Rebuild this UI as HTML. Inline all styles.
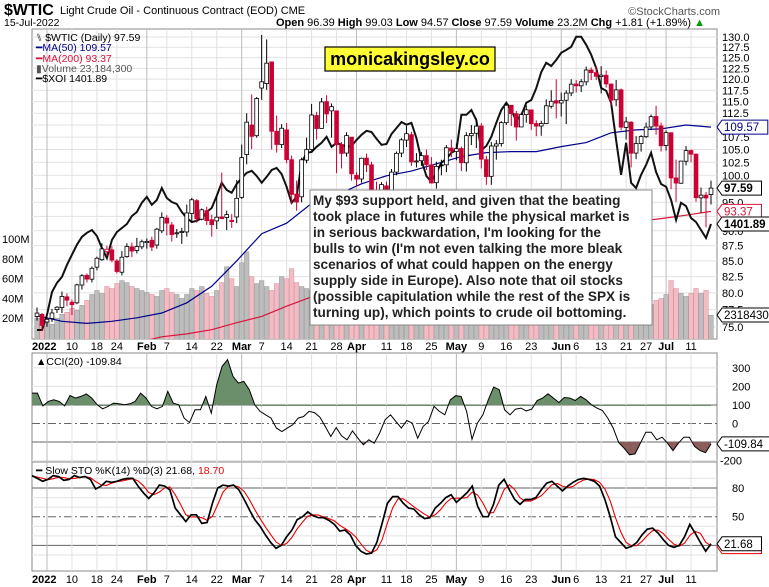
<!DOCTYPE html>
<html><head><meta charset="utf-8"><style>
body{margin:0;background:#fff;}
svg{display:block;font-family:"Liberation Sans",Arial,sans-serif;}
</style></head><body>
<svg id="c" width="769" height="587" viewBox="0 0 769 587">
<defs>
<clipPath id="mainClip"><rect x="32" y="29" width="685" height="310"/></clipPath>
<clipPath id="cciUp"><rect x="32" y="353" width="685" height="52.95"/></clipPath>
<clipPath id="cciDn"><rect x="32" y="442.05" width="685" height="20"/></clipPath>
</defs>
<rect x="0" y="0" width="769" height="587" fill="#fff"/>
<text x="4" y="15" font-size="16" font-weight="bold">$WTIC</text>
<text x="60" y="14" font-size="11">Light Crude Oil - Continuous Contract (EOD) CME</text>
<text x="4" y="26" font-size="10.5">15-Jul-2022</text>
<text x="276" y="26" font-size="11"><tspan font-weight="bold">Open</tspan> 96.39 <tspan font-weight="bold">High</tspan> 99.03 <tspan font-weight="bold">Low</tspan> 94.57 <tspan font-weight="bold">Close</tspan> 97.59 <tspan font-weight="bold">Volume</tspan> 23.2M <tspan font-weight="bold">Chg</tspan> +1.81 (+1.89%) <tspan fill="#090">▲</tspan></text>
<text x="720" y="15" font-size="11" text-anchor="end" fill="#555">©StockCharts.com</text>
<g id="grid"></g>
<g id="vol" clip-path="url(#mainClip)"></g>
<g id="lines" clip-path="url(#mainClip)"></g>
<g id="candles" clip-path="url(#mainClip)"></g>
<g id="ind"></g>
<g font-size="10.5">
<text x="36" y="41">⑊ $WTIC (Daily) 97.59</text>
<text x="36" y="51" fill="#00008b">━MA(50) 109.57</text>
<text x="36" y="62" fill="#dc143c">━MA(200) 93.37</text>
<text x="36" y="72" fill="#555">▮Volume 23,184,300</text>
<text x="36" y="82">━$XOI 1401.89</text>
<text x="36" y="365">▲CCI(20) -109.84</text>
<text x="36" y="474">━ Slow STO %K(14) %D(3) 21.68, <tspan fill="#e00">18.70</tspan></text>
</g>
<g>
<rect x="325" y="47" width="170" height="24" fill="#ffff33" stroke="#000" stroke-width="1.2"/>
<text x="410" y="65" font-size="18" font-weight="bold" text-anchor="middle">monicakingsley.co</text>
</g>
<g>
<rect x="310" y="190" width="342" height="135" fill="#fff" stroke="#888"/>
<text font-size="13.6" font-weight="bold" fill="#222">
<tspan x="313" y="205">My $93 support held, and given that the beating</tspan>
<tspan x="313" y="221">took place in futures while the physical market is</tspan>
<tspan x="313" y="237">in serious backwardation, I'm looking for the</tspan>
<tspan x="313" y="253">bulls to win (I'm not even talking the more bleak</tspan>
<tspan x="313" y="269">scenarios of what could happen on the energy</tspan>
<tspan x="313" y="285">supply side in Europe). Also note that oil stocks</tspan>
<tspan x="313" y="301">(possible capitulation while the rest of the SPX is</tspan>
<tspan x="313" y="317">turning up), which points to crude oil bottoming.</tspan>
</text>
</g>
<g id="tags"></g>
</svg>
<script>
const closes=[76.99,75.21,76.08,77.0,77.85,79.46,78.9,78.23,81.22,82.64,82.12,83.82,85.43,86.96,86.9,85.14,83.31,85.6,87.35,86.61,87.35,88.15,88.2,87.26,90.27,92.31,91.32,89.36,89.66,89.88,93.1,95.46,92.07,93.66,91.76,91.07,92.35,92.10,92.81,91.59,95.72,103.41,110.60,107.67,115.68,119.40,123.70,108.70,106.02,109.33,103.01,96.44,95.04,102.98,104.98,112.12,109.27,114.93,112.34,113.90,105.96,104.24,107.82,100.28,99.27,103.28,102.00,96.23,96.03,98.26,94.29,100.60,104.25,106.95,108.21,102.56,102.75,103.79,102.07,98.54,101.70,101.97,105.36,104.69,105.17,102.41,107.81,108.26,109.77,103.09,99.76,105.71,106.13,110.49,114.20,112.40,109.59,112.21,113.23,110.29,109.77,110.33,114.09,115.07,114.67,115.26,116.87,118.87,118.50,119.41,122.11,121.51,120.67,120.93,118.93,115.31,117.59,109.56,110.65,104.27,106.19,107.62,109.57,111.76,109.78,105.76,108.43,99.50,98.53,102.73,104.79,104.09,95.84,96.30,95.78,97.59];
const opens=[76.5,76.8,75.7,76.2,77.5,77.8,79.4,78.6,78.5,81.2,82.7,82.1,84.0,85.2,86.5,86.8,85.0,83.2,85.7,87.3,86.7,87.3,88.0,88.4,87.6,90.0,92.2,91.0,89.5,89.7,89.8,93.0,95.3,92.0,93.5,91.9,91.7,92.4,92.3,91.8,92.4,95.9,104.0,110.0,107.8,118.0,119.0,124.0,108.7,106.0,109.0,103.0,96.5,96.0,102.9,105.0,112.0,109.3,115.0,113.0,113.0,106.0,104.3,107.5,100.0,99.3,103.3,102.0,96.2,96.0,98.0,94.5,100.6,104.3,106.9,108.0,102.6,102.8,103.8,102.0,98.6,102.0,102.0,105.3,104.6,105.2,102.4,107.8,108.3,109.8,103.0,99.8,105.7,106.2,110.5,114.2,112.4,109.6,112.2,113.2,110.3,109.8,110.3,114.0,115.2,114.7,115.3,116.9,118.9,118.5,119.4,122.1,121.5,120.6,120.9,118.9,115.4,117.6,109.5,110.6,104.3,106.2,107.6,109.6,111.8,109.8,105.8,108.4,99.5,98.5,102.7,104.8,104.1,95.8,96.3,96.4];
const highs=[77.8,77.0,76.5,77.6,78.0,80.2,79.9,79.0,81.4,82.9,83.0,84.1,85.7,87.9,87.5,87.4,85.3,86.6,87.9,88.0,88.8,88.5,88.7,89.0,90.5,93.2,92.7,91.5,90.3,90.5,94.6,95.8,95.6,93.9,94.2,92.8,96.0,100.5,93.5,92.9,99.1,106.0,112.5,116.6,116.0,130.5,129.4,123.7,112.0,110.2,110.4,103.8,99.0,103.4,107.4,114.5,112.8,115.8,116.4,114.6,107.0,106.5,108.5,101.0,100.6,103.4,104.2,102.6,98.8,98.7,98.8,101.2,104.6,107.3,109.8,108.6,104.3,104.5,105.0,103.5,102.6,103.0,105.9,107.0,106.2,105.6,108.5,110.0,111.4,110.4,103.8,106.5,106.9,110.8,114.6,114.2,113.0,112.6,114.2,113.3,111.0,110.9,115.5,117.5,119.98,117.0,117.5,120.0,119.8,120.0,122.9,122.7,123.0,123.0,122.0,119.0,119.8,117.9,111.7,110.8,107.7,107.9,110.5,112.2,114.1,110.5,108.9,108.5,103.0,102.8,105.7,105.0,104.2,97.7,96.9,99.0];
const lows=[75.9,74.4,75.0,75.7,77.0,77.0,78.0,76.7,78.3,80.5,81.6,81.6,83.5,85.0,85.8,84.8,83.0,82.7,85.5,85.6,86.2,86.9,87.0,86.6,87.0,89.6,89.2,88.2,88.8,87.8,89.0,91.4,91.4,91.8,91.0,89.0,90.3,92.3,90.1,90.5,91.3,95.6,102.1,105.1,107.4,115.4,117.6,105.0,104.4,105.3,102.3,94.7,93.5,95.0,102.3,104.8,107.0,109.6,110.4,107.4,100.4,101.3,103.6,99.0,97.9,98.6,100.6,95.4,94.7,94.7,93.9,94.2,100.0,103.5,105.5,101.8,101.5,101.8,101.0,98.5,97.5,100.0,100.6,103.5,102.9,100.8,100.7,105.9,105.3,101.3,98.2,98.2,103.0,105.6,110.0,109.8,106.8,110.0,110.5,109.0,107.7,107.8,110.2,113.5,111.4,111.8,110.2,116.2,117.0,117.1,118.6,119.8,119.8,116.8,118.1,114.2,114.0,108.9,107.0,101.5,103.1,104.6,107.3,109.0,108.0,104.6,104.8,97.4,95.1,98.4,101.9,102.5,95.1,93.1,90.6,94.6];
const volumes=[20,15,18,14,20,24,26,30,28,33,38,44,48,45,52,50,55,58,56,52,50,48,46,44,42,48,50,46,44,40,44,50,48,52,45,42,48,56,72,60,52,76,87,62,55,58,52,48,55,62,60,70,56,52,50,48,46,43,40,38,42,44,40,46,40,38,35,42,44,40,38,36,40,38,34,45,40,36,34,38,42,40,36,34,38,40,42,36,34,38,42,40,36,34,38,40,36,32,30,34,36,30,32,28,34,36,32,30,34,36,38,32,34,40,42,38,44,50,46,48,40,38,36,34,38,40,44,58,50,45,42,45,50,45,48,23];
const xoi=[1137,1137,1175,1232,1255,1270,1300,1325,1350,1370,1380,1387,1372,1342,1317,1362,1382,1392,1402,1422,1432,1455,1470,1450,1462,1492,1467,1457,1452,1432,1417,1407,1410,1417,1432,1442,1472,1505,1487,1480,1502,1517,1530,1535,1522,1505,1520,1537,1542,1527,1495,1455,1470,1555,1580,1582,1595,1605,1620,1595,1605,1600,1595,1597,1612,1625,1635,1632,1615,1600,1602,1627,1642,1657,1650,1655,1617,1562,1522,1507,1530,1555,1565,1580,1587,1675,1675,1687,1662,1587,1597,1620,1655,1687,1705,1687,1660,1674,1705,1712,1742,1782,1805,1797,1812,1830,1837,1845,1870,1870,1850,1825,1792,1742,1735,1705,1612,1525,1605,1505,1492,1525,1550,1580,1532,1502,1495,1462,1412,1455,1447,1417,1407,1387,1367,1401.89];
const ma50=[76.6,75.8,75.5,75.8,76.3,77.0,78.5,81.0,85.0,89.5,91.3,94.8,96.3,98.4,99.9,100.8,102.2,103.6,104.4,104.6,104.6,105.6,106.4,108.4,109.0,109.2,110.0,109.57];
const ma200=[70.5,71.2,71.8,72.3,72.8,73.6,74.0,74.6,75.6,76.5,78.0,79.4,80.6,81.8,83.0,84.1,85.2,86.3,87.3,88.2,89.1,89.9,90.6,91.2,91.6,92.1,92.7,93.37];
const cci=[164,164,95,119,128,119,95,151,137,146,159,137,101,79,92,110,106,101,106,119,164,137,92,79,92,173,110,101,29,5,74,74,146,56,209,308,344,254,218,227,182,101,65,47,29,-25,-43,-25,-7,29,38,65,59,34,-16,-70,-22,-67,-88,-40,-79,-115,-88,-106,-52,20,47,11,-25,16,2,-79,-16,11,92,65,47,128,150,146,65,-85,2,47,128,196,182,74,47,77,83,68,77,124,137,160,137,113,140,137,124,146,128,101,83,70,29,-25,-103,-133,-169,-164,-106,-47,-47,-88,-74,-106,-146,-106,-74,-74,-124,-146,-157,-109.84];
const stoK=[93,90,87,89,93,92,88,89,93,91,92,89,79,82,87,86,87,89,90,90,82,75,69,75,83,82,78,59,52,45,52,52,43,44,64,80,83,82,83,78,68,57,47,40,31,23,17,20,29,36,47,50,55,51,49,49,46,42,35,36,31,20,14,11,12,23,43,64,71,71,64,59,58,52,48,49,59,64,70,73,65,70,75,82,61,50,50,63,83,89,78,68,63,68,68,70,78,85,87,82,77,82,86,89,90,89,87,82,68,50,29,23,17,19,23,31,37,38,33,26,20,18,20,29,42,33,23,14,21.68];
const priceTicks=[130,127.5,125,122.5,120,117.5,115,112.5,110,107.5,105,102.5,100,97.5,95,92.5,90,87.5,85,82.5,80,77.5,75];
const volTicks=[100,80,60,40,20];
const dateLabels=["2022","10","18","24","Feb","7","14","22","Mar","7","14","21","28","Apr","11","18","25","May","9","16","23","Jun","6","13","21","27","Jul","11"];
const dateIdx=[2,7,12,16,22,26,31,36,41,45,50,55,60,64,70,74,79,84,89,94,99,105,108,113,118,122,126,131];
const cciTicks=[300,200,100,0,-200];
const stoTicks=[80,50];

const NS="http://www.w3.org/2000/svg";
const L=32,R=717,x0=37,dx=(711-37)/(closes.length-1);
const X=i=>x0+i*dx;
const yP=p=>37+Math.log(130/p)*527;
const yV=v=>338-v*0.99;
const yX=v=>224-(v-1401.89)*0.4;
const yC=v=>423.5-v*0.1855;
const yS=v=>488-(v-80)*0.957;
function el(tag,attrs,parent,txt){const e=document.createElementNS(NS,tag);for(const k in attrs)e.setAttribute(k,attrs[k]);if(txt!==undefined)e.textContent=txt;parent.appendChild(e);return e;}
const grid=document.getElementById('grid'),vol=document.getElementById('vol'),lines=document.getElementById('lines'),cg=document.getElementById('candles'),ind=document.getElementById('ind'),tags=document.getElementById('tags');

[[29,339],[353,462],[462,571]].forEach((p,i)=>{const r=el('rect',{x:L,y:p[0],width:R-L,height:p[1]-p[0],fill:'#fff',stroke:'#888'},grid);

});
priceTicks.forEach(p=>{const y=yP(p);el('line',{x1:L,x2:R,y1:y,y2:y,stroke:'#e2e2e2'},grid);
const t=el('text',{x:722,y:y+4,'font-size':11},grid,p.toFixed(1));

});
volTicks.forEach(v=>{const t=el('text',{x:2,y:yV(v)+4,'font-size':11},grid,v+'M');

});
[300,200,-200].forEach(v=>el('line',{x1:L,x2:R,y1:yC(v),y2:yC(v),stroke:'#e2e2e2'},grid));
[100,-100].forEach(v=>el('line',{x1:L,x2:R,y1:yC(v),y2:yC(v),stroke:'#666'},grid));
el('line',{x1:L,x2:R,y1:yC(0),y2:yC(0),stroke:'#666','stroke-dasharray':'8,3,2,3'},grid);
cciTicks.forEach(v=>{const t=el('text',{x:v<0?720:732,y:yC(v)+4,'font-size':11},grid,String(v));

});
[90,70,60,40,30,10].forEach(v=>el('line',{x1:L,x2:R,y1:yS(v),y2:yS(v),stroke:'#e2e2e2'},grid));
[80,20].forEach(v=>el('line',{x1:L,x2:R,y1:yS(v),y2:yS(v),stroke:'#666'},grid));
el('line',{x1:L,x2:R,y1:yS(50),y2:yS(50),stroke:'#666','stroke-dasharray':'8,3,2,3'},grid);
stoTicks.forEach(v=>{const t=el('text',{x:732,y:yS(v)+4,'font-size':11},grid,String(v));

});
dateIdx.forEach((k,i)=>{const x=X(k);const month=isNaN(+dateLabels[i])||dateLabels[i]==="2022";
[[29,339],[353,571]].forEach(p=>el('line',{x1:x,x2:x,y1:p[0],y2:p[1],stroke:month?'#bbb':'#e2e2e2'},grid));
[350,583].forEach(y=>{const t=el('text',{x:i==0?L:x,y:y,'font-size':11,'text-anchor':i==0?'start':'middle','font-weight':month?'bold':'normal'},grid,dateLabels[i]);

});});
volumes.forEach((v,i)=>{const down=i>0&&closes[i]<closes[i-1];const r=el('rect',{x:X(i)-2.3,y:yV(v),width:4.6,height:338-yV(v)+2,fill:down?'#f2bcc4':'#bdbdbd',stroke:down?'#d9909c':'#9a9a9a','stroke-width':0.5},vol);

});
function poly(vals,fx,fy,color,w,name,parent){const pts=vals.map((v,i)=>fx(i).toFixed(1)+','+fy(v).toFixed(1)).join(' ');const p=el('polyline',{points:pts,fill:'none',stroke:color,'stroke-width':w},parent||lines);

return p;}
const mstep=(closes.length-1)/(ma50.length-1);
poly(ma200,i=>X(i*mstep),yP,'#dc143c',1.2,'ma200-line');
poly(ma50,i=>X(i*mstep),yP,'#00008b',1.2,'ma50-line');
poly(xoi,X,yX,'#111',2,'xoi-line');
closes.forEach((c,i)=>{const o=opens[i];const red=i>0&&c<closes[i-1];const col=red?'#cc0033':'#000';const x=X(i);
el('line',{x1:x,x2:x,y1:yP(highs[i]),y2:yP(lows[i]),stroke:col,'stroke-width':1},cg);
const top=yP(Math.max(o,c)),bot=yP(Math.min(o,c));
const r=el('rect',{x:x-1.9,y:top,width:3.8,height:Math.max(1,bot-top),fill:c<o?col:'#fff',stroke:col,'stroke-width':0.8},cg);

});
const cx=i=>L+i*(711-L)/(cci.length-1);
function area(vals,base,color,clip){let d='M'+cx(0)+','+yC(base);vals.forEach((v,i)=>d+='L'+cx(i).toFixed(1)+','+yC(v).toFixed(1));d+='L'+cx(vals.length-1)+','+yC(base)+'Z';
const p=el('path',{d:d,fill:color,'clip-path':clip},ind);

}
area(cci,100,'#6b8e6b','url(#cciUp)');
area(cci,-100,'#8b5d5d','url(#cciDn)');
poly(cci,cx,yC,'#000',1,'cci-line',ind);
const sx=i=>L+i*(711-L)/(stoK.length-1);
const stoD=stoK.map((v,i)=>{const a=stoK.slice(Math.max(0,i-2),i+1);return a.reduce((s,t)=>s+t,0)/a.length;});
poly(stoD,sx,yS,'#ee0000',1.1,'stoch-d-line',ind);
poly(stoK,sx,yS,'#000',1.7,'stoch-k-line',ind);
function tag(y,txt,color,bold,name){const g=el('g',{},tags);


const w=txt.length*6.3+8;el('path',{d:`M717,${y} L722,${y-7} L${722+w},${y-7} L${722+w},${y+7} L722,${y+7} Z`,fill:'#fff',stroke:color},g);
el('text',{x:724,y:y+4,'font-size':11.5,'font-weight':bold?'bold':'normal',fill:color==='#000'?'#000':color},g,txt);}
tag(yP(109.57),'109.57','#00008b',false,'ma50-value-tag');
tag(yP(93.37),'93.37','#dc143c',false,'ma200-value-tag');
tag(yP(97.59),'97.59','#000',true,'close-value-tag');
tag(yX(1401.89),'1401.89','#000',true,'xoi-value-tag');
tag(yV(23.18),'23184300','#000',false,'volume-value-tag');
tag(yC(-109.84),'-109.84','#000',false,'cci-value-tag');
tag(yS(18.7),'18.70','#e00',false,'stoch-d-tag');
tag(yS(21.68),'21.68','#000',false,'stoch-k-tag');
</script>
</body></html>
